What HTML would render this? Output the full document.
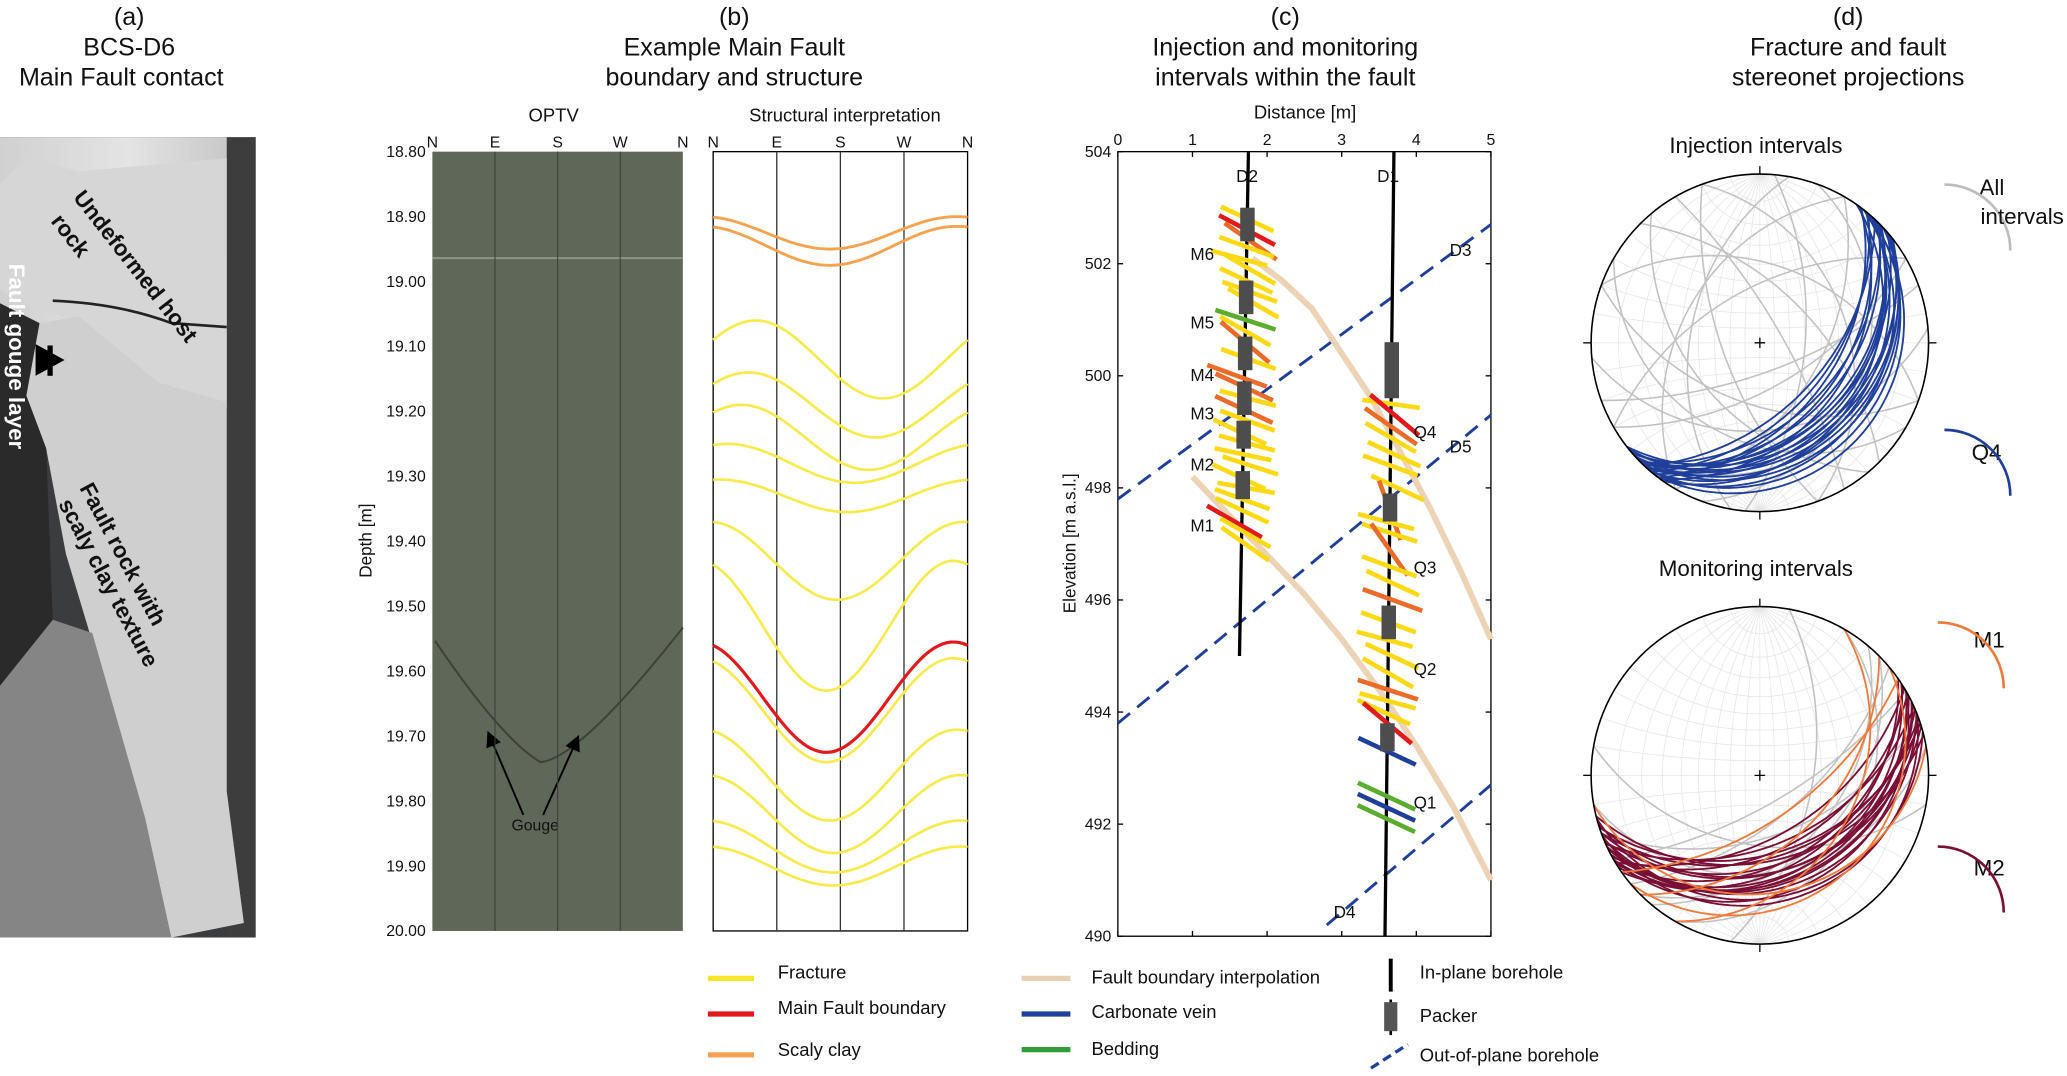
<!DOCTYPE html>
<html><head><meta charset="utf-8"><style>
html,body{margin:0;padding:0;background:#fff;width:2067px;height:1076px;overflow:hidden}
svg{display:block}
text{font-family:"Liberation Sans",Arial,sans-serif;fill:#111}
</style></head><body>
<svg id="fig" width="2067" height="1076" viewBox="0 0 1568 816" preserveAspectRatio="none" xmlns="http://www.w3.org/2000/svg">
<defs>
<clipPath id="clipPhoto"><rect x="0" y="104" width="194" height="607"/></clipPath>
<linearGradient id="coreG" x1="0" x2="1" y1="0" y2="0"><stop offset="0" stop-color="#d0d0d0"/><stop offset="0.5" stop-color="#e4e4e4"/><stop offset="0.9" stop-color="#c8c8c8"/><stop offset="1" stop-color="#666"/></linearGradient>
<marker id="ah" markerWidth="8" markerHeight="8" refX="6" refY="4" orient="auto"><path d="M0,0 L8,4 L0,8 z" fill="#000"/></marker>
</defs>

<g font-size="19" text-anchor="middle">
<text x="98" y="19">(a)</text>
<text x="98" y="42">BCS-D6</text>
<text x="92" y="65">Main Fault contact</text>
<text x="557" y="19">(b)</text>
<text x="557" y="42">Example Main Fault</text>
<text x="557" y="65">boundary and structure</text>
<text x="975" y="19">(c)</text>
<text x="975" y="42">Injection and monitoring</text>
<text x="975" y="65">intervals within the fault</text>
<text x="1402" y="19">(d)</text>
<text x="1402" y="42">Fracture and fault</text>
<text x="1402" y="65">stereonet projections</text>
</g>

<g clip-path="url(#clipPhoto)">
<rect x="0" y="104" width="194" height="607" fill="#3a3c3e"/>
<rect x="0" y="104" width="194" height="200" fill="url(#coreG)"/>
<rect x="172" y="104" width="22" height="607" fill="#3d3d3d"/>
<polygon points="0,140 20,120 60,130 172,120 172,310 120,290 60,245 20,230 0,220" fill="#d6d6d6"/>
<polygon points="30,245 60,240 120,290 172,305 172,600 185,700 130,711 110,690 95,620 80,520 50,420 35,340 20,300" fill="#cfcfcf"/>
<polygon points="0,520 40,470 70,480 110,620 130,711 0,711" fill="#858585"/>
<polygon points="0,230 30,245 20,300 35,340 40,470 0,520" fill="#2a2a2a"/>
<path d="M40,228 Q90,230 130,245 L172,248" stroke="#222" stroke-width="2" fill="none"/>
<text x="0" y="0" font-size="17" font-weight="bold" transform="translate(55,150) rotate(52)">Undeformed host</text>
<text x="0" y="0" font-size="17" font-weight="bold" transform="translate(38,168) rotate(52)">rock</text>
<text x="0" y="0" font-size="17" font-weight="bold" style="fill:#fff" transform="translate(7,200) rotate(90)">Fault gouge layer</text>
<text x="0" y="0" font-size="17" font-weight="bold" transform="translate(60,370) rotate(62)">Fault rock with</text>
<text x="0" y="0" font-size="17" font-weight="bold" transform="translate(44,382) rotate(62)">scaly clay texture</text>
<line x1="38" y1="262" x2="38" y2="285" stroke="#000" stroke-width="4"/>
<polygon points="26,262 50,262 38,284" fill="#000" transform="rotate(-90 38 273)"/>
</g>

<g id="panelB">
<text x="420" y="92" font-size="14" text-anchor="middle">OPTV</text>
<text x="641" y="92" font-size="14" text-anchor="middle">Structural interpretation</text>
<rect x="328" y="115" width="190" height="591" fill="#5f6759"/>
<rect x="328" y="195" width="190" height="1.5" fill="#8d9588"/>
<path d="M330,486 Q380,560 410,578 Q440,575 518,476" stroke="#3c4238" stroke-width="1.5" fill="none"/>
<rect x="541" y="115" width="193" height="591" fill="#fff" stroke="#000" stroke-width="1"/>
<text x="0" y="0" font-size="13" text-anchor="middle" transform="translate(282,410) rotate(-90)">Depth [m]</text>
<text x="406" y="630" font-size="12" text-anchor="middle">Gouge</text>
<line x1="397" y1="618" x2="371" y2="557" stroke="#000" stroke-width="1.5" marker-end="url(#ah)"/>
<line x1="412" y1="618" x2="438" y2="560" stroke="#000" stroke-width="1.5" marker-end="url(#ah)"/>
</g>

<g id="panelC">
<rect x="848" y="115" width="283" height="595" fill="#fff" stroke="#000" stroke-width="1"/>
<text x="990" y="90" font-size="14" text-anchor="middle">Distance [m]</text>
<text x="0" y="0" font-size="13" text-anchor="middle" transform="translate(816,412) rotate(-90)">Elevation [m a.s.l.]</text>
</g>

<g id="panelD">
<text x="1332" y="116" font-size="17" text-anchor="middle">Injection intervals</text>
<text x="1332" y="437" font-size="17" text-anchor="middle">Monitoring intervals</text>
</g>

<g font-size="14">
<line x1="537" y1="742" x2="572" y2="742" stroke="#f5e62a" stroke-width="4"/><text x="590" y="742">Fracture</text>
<line x1="537" y1="769" x2="572" y2="769" stroke="#e3191b" stroke-width="4"/><text x="590" y="769">Main Fault boundary</text>
<line x1="537" y1="800" x2="572" y2="800" stroke="#f4a450" stroke-width="4"/><text x="590" y="801">Scaly clay</text>
<line x1="775" y1="742" x2="812" y2="742" stroke="#e8cfb2" stroke-width="4"/><text x="828" y="746">Fault boundary interpolation</text>
<line x1="775" y1="769" x2="812" y2="769" stroke="#1f3f9a" stroke-width="4"/><text x="828" y="772">Carbonate vein</text>
<line x1="775" y1="796" x2="812" y2="796" stroke="#2f9e3a" stroke-width="4"/><text x="828" y="800">Bedding</text>
<line x1="1055" y1="727" x2="1055" y2="752" stroke="#000" stroke-width="3"/><text x="1077" y="742">In-plane borehole</text>
<line x1="1055" y1="758" x2="1055" y2="785" stroke="#000" stroke-width="2"/><rect x="1050" y="760" width="10" height="22" fill="#555"/><text x="1077" y="775">Packer</text>
<line x1="1040" y1="810" x2="1068" y2="792" stroke="#1f3f9a" stroke-width="2.5" stroke-dasharray="7,4"/><text x="1077" y="805">Out-of-plane borehole</text>
</g>
</svg>
<script>
var NS="http://www.w3.org/2000/svg";
function mk(tag,attrs,parent){var e=document.createElementNS(NS,tag);for(var k in attrs)e.setAttribute(k,attrs[k]);parent.appendChild(e);return e;}
// ---------- Panel B data ----------
var depthTicks=["18.80","18.90","19.00","19.10","19.20","19.30","19.40","19.50","19.60","19.70","19.80","19.90","20.00"];
var azLabels=["N","E","S","W","N"];
var fracDepth=[19.12,19.19,19.24,19.28,19.33,19.43,19.53,19.66,19.76,19.82,19.87,19.90];
var fracAmp=[0.06,0.05,0.05,0.03,0.025,0.06,0.10,0.08,0.07,0.06,0.04,0.03];
var fracTrough=[240,230,220,200,190,175,160,160,165,170,170,170];
var clayDepth=[18.925,18.945];
var clayAmp=[0.025,0.03];
var faultDepth=[19.64];
var faultAmp=[0.085];
var B=document.getElementById('panelB');
var bx0=541,bx1=734,by0=115,by1=706;
function Yd(d){return by0+(d-18.8)/1.2*(by1-by0);}
function AzX(a,x0,x1){return x0+a/360*(x1-x0);}
for(var i=0;i<depthTicks.length;i++){var y=Yd(parseFloat(depthTicks[i]));
 var t=mk('text',{x:323,y:y+4,'font-size':12,'text-anchor':'end'},B);t.textContent=depthTicks[i];
 
 }
for(var i=0;i<5;i++){[[328,518],[541,734]].forEach(function(r,j){
 var x=AzX(i*90,r[0],r[1]);var t=mk('text',{x:x,y:112,'font-size':12,'text-anchor':'middle'},B);t.textContent=azLabels[i];
 
 
 if(i>0&&i<4){var l=mk('line',{x1:x,y1:by0,x2:x,y2:by1,stroke:j?'#333':'#3a4037','stroke-width':j?1:0.8},B);
 
 }});}
function sinus(d,a,tr,color,w){var p="";for(var k=0;k<=60;k++){var az=k*6;var y=Yd(d+a*Math.cos((az-tr)*Math.PI/180));p+=(k?"L":"M")+AzX(az,bx0,bx1).toFixed(1)+","+y.toFixed(1);}
 return mk('path',{d:p,stroke:color,'stroke-width':w,fill:'none'},B);}
for(var i=0;i<fracDepth.length;i++){var e=sinus(fracDepth[i],fracAmp[i],fracTrough[i],'#f7ea4a',2);
 
 }
for(var i=0;i<clayDepth.length;i++){var e=sinus(clayDepth[i],clayAmp[i],165,'#f4a450',2.2);
 
 }
for(var i=0;i<faultDepth.length;i++){var e=sinus(faultDepth[i],faultAmp[i],160,'#e3191b',2.4);
 
 }

// ---------- Panel C data ----------
var distTicks=[0,1,2,3,4,5];
var elevTicks=[504,502,500,498,496,494,492,490];
var d2Elev=[502.8,502.6,502.4,502.3,502.1,501.9,501.7,501.5,501.3,501.0,500.8,500.6,500.3,500.0,499.8,499.6,499.4,499.2,499.0,498.8,498.6,498.4,498.2,498.0,497.8,497.6,497.4,497.2,497.0];
var d2Col=["y","r","o","y","y","y","y","y","y","g","y","o","y","o","o","y","o","y","y","y","y","y","y","y","y","y","r","y","y"];
var d2Ang=[25,28,35,20,15,30,25,20,30,18,30,40,20,20,25,15,25,20,25,15,12,18,25,10,20,25,30,30,35];
var d2Off=[0.0,0.0,0.05,0.0,-0.1,0.05,0.0,0.05,0.1,0.0,0.0,0.0,0.05,-0.1,0.0,0.05,0.0,0.05,-0.05,0.05,0.0,0.1,-0.05,0.05,0.0,0.0,-0.1,0.05,0.05];
var d1Elev=[499.5,499.3,499.1,498.9,498.6,498.4,498.0,497.6,497.4,497.2,496.9,496.6,496.3,496.0,495.6,495.3,495.0,494.7,494.4,494.2,494.0,493.8,493.3,492.5,492.3,492.1];
var d1Col=["y","r","o","y","y","y","y","o","y","y","o","y","y","o","y","y","y","y","o","y","y","r","b","g","b","g"];
var d1Ang=[8,40,35,30,25,20,25,70,15,18,55,20,25,20,20,15,25,30,18,15,25,40,25,25,25,25];
var d1Off=[0.0,0.05,0.0,0.0,0.05,0.0,0.1,0.0,-0.05,0.0,0.0,0.0,0.05,0.05,0.0,-0.05,0.05,0.0,0.0,0.0,-0.05,0.0,0.0,0.0,0.0,0.0];
var packD2=[[503.0,502.4],[501.7,501.1],[500.7,500.1],[499.9,499.3],[499.2,498.7],[498.3,497.8]];
var packD1=[[500.6,499.6],[497.9,497.4],[495.9,495.3],[493.8,493.3]];
var faultUpper=[[1.8,502.1],[2.2,501.7],[2.6,501.2],[3.0,500.4],[3.4,499.6],[3.8,498.6],[4.2,497.6],[4.6,496.5],[5.0,495.3]];
var faultLower=[[1.0,498.2],[1.5,497.5],[2.0,496.8],[2.5,496.1],[3.0,495.3],[3.5,494.4],[4.0,493.4],[4.5,492.3],[5.0,491.0]];
var boreD3=[[0,497.8],[5,502.7]];
var boreD5=[[0,493.8],[5,499.3]];
var boreD4=[[2.8,490.2],[5,492.7]];
var C=document.getElementById('panelC');
var cx0=848,cx1=1131,cy0=115,cy1=710;
function X(d){return cx0+d/5*(cx1-cx0);}
function Y(e){return cy0+(504-e)/14*(cy1-cy0);}
function D2x(e){return 1.75-(504-e)/9*0.12;}
function D1x(e){return 3.7-(504-e)/14*0.12;}
var colMap={y:'#fbd915',r:'#e3191b',o:'#ec6b28',g:'#5aae2e',b:'#1f3f9a'};
distTicks.forEach(function(v){var t=mk('text',{x:X(v),y:110,'font-size':12,'text-anchor':'middle'},C);t.textContent=v;
 
 
 mk('line',{x1:X(v),y1:cy0,x2:X(v),y2:cy0+4,stroke:'#000'},C);mk('line',{x1:X(v),y1:cy1,x2:X(v),y2:cy1-4,stroke:'#000'},C);});
elevTicks.forEach(function(v){var t=mk('text',{x:843,y:Y(v)+4,'font-size':12,'text-anchor':'end'},C);t.textContent=v;
 
 
 mk('line',{x1:cx0,y1:Y(v),x2:cx0+4,y2:Y(v),stroke:'#000'},C);mk('line',{x1:cx1,y1:Y(v),x2:cx1-4,y2:Y(v),stroke:'#000'},C);});
function dashed(pts,name){var l=mk('line',{x1:X(pts[0][0]),y1:Y(pts[0][1]),x2:X(pts[1][0]),y2:Y(pts[1][1]),stroke:'#1f3f9a','stroke-width':2.2,'stroke-dasharray':'12,7'},C);
 
 }
dashed(boreD3,'borehole-d3');dashed(boreD5,'borehole-d5');dashed(boreD4,'borehole-d4');
function poly(pts,name){var p=pts.map(function(q,i){return (i?'L':'M')+X(q[0]).toFixed(1)+','+Y(q[1]).toFixed(1);}).join('');
 var e=mk('path',{d:p,stroke:'#ecd3b5','stroke-width':4.5,fill:'none','stroke-linejoin':'round'},C);
 
 }
poly(faultUpper,'fault-interp-upper');poly(faultLower,'fault-interp-lower');
var b2=mk('line',{x1:X(D2x(504)),y1:cy0,x2:X(D2x(495)),y2:Y(495),stroke:'#000','stroke-width':2.5},C);


var b1=mk('line',{x1:X(D1x(504)),y1:cy0,x2:X(D1x(490)),y2:cy1,stroke:'#000','stroke-width':2.5},C);


function ticks(el,col,ang,off,fx,name){for(var i=0;i<el.length;i++){var cx=X(fx(el[i])+off[i]),cy=Y(el[i]);var L=col[i]=='y'?22:24;var a=ang[i]*Math.PI/180;
 var e=mk('line',{x1:cx-L*Math.cos(a),y1:cy-L*Math.sin(a),x2:cx+L*Math.cos(a),y2:cy+L*Math.sin(a),stroke:colMap[col[i]],'stroke-width':3.5},C);
 
 }}
ticks(d2Elev,d2Col,d2Ang,d2Off,D2x,'d2-structure');
ticks(d1Elev,d1Col,d1Ang,d1Off,D1x,'d1-structure');
function packers(arr,fx,name){arr.forEach(function(p){var e=mk('rect',{x:X(fx(p[0]))-5.5,y:Y(p[0]),width:11,height:Y(p[1])-Y(p[0]),fill:'#4d4d4d'},C);
 
 });}
packers(packD2,D2x,'packer-d2');packers(packD1,D1x,'packer-d1');
var labels=[["D2",946,138],["D1",1053,138],["D3",1108,194],["D5",1108,343],["D4",1020,696],["M6",912,197],["M5",912,249],["M4",912,289],["M3",912,318],["M2",912,357],["M1",912,403],["Q4",1081,332],["Q3",1081,435],["Q2",1081,512],["Q1",1081,613]];
labels.forEach(function(l){var t=mk('text',{x:l[1],y:l[2],'font-size':13,'text-anchor':'middle'},C);t.textContent=l[0];
 
 });

// ---------- Panel D data ----------
var topBlueDD=[128,130,132,135,126,138,140,133,129,131,136,142,127,134,130,137,139,125,133,141,135,128];
var topBlueDip=[18,22,26,30,34,20,24,28,38,15,32,26,42,36,45,18,30,24,48,22,40,12];
var topGreyDD=[20,45,70,95,110,160,200,230,250,300,330,175,150,60,140,120,210,280];
var topGreyDip=[40,55,35,60,25,70,50,45,65,40,55,35,60,75,20,50,30,45];
var botMarDD=[150,155,160,148,158,152,162,165,145,156,150,160,154,149,163,157,151,159,147,166];
var botMarDip=[20,25,30,35,22,28,40,18,32,45,26,38,24,50,30,34,42,16,28,36];
var botOrDD=[120,135,170,145,140];
var botOrDip=[30,45,20,60,15];
var botGreyDD=[100,130,140,170,190,150,120,160,135];
var botGreyDip=[55,40,60,30,45,70,25,50,35];
var D=document.getElementById('panelD');
var R=128;
function proj(cx,cy,v){return [cx+R*v[0]/(1+v[2]),cy-R*v[1]/(1+v[2])];}
function pathFrom(cx,cy,vecs){return vecs.map(function(v,i){var p=proj(cx,cy,v);return (i?'L':'M')+p[0].toFixed(1)+','+p[1].toFixed(1);}).join('');}
function planeVecs(dd,dip){var a=dd*Math.PI/180,d=dip*Math.PI/180;var s=[Math.sin(a-Math.PI/2),Math.cos(a-Math.PI/2),0];
 var dv=[Math.sin(a)*Math.cos(d),Math.cos(a)*Math.cos(d),Math.sin(d)];var out=[];
 for(var k=0;k<=72;k++){var t=k/72*Math.PI;out.push([Math.cos(t)*s[0]+Math.sin(t)*dv[0],Math.cos(t)*s[1]+Math.sin(t)*dv[1],Math.cos(t)*s[2]+Math.sin(t)*dv[2]]);}
 return out;}
function net(cx,cy,name){var g=mk('g',{},D);
 
 
 var gp="";
 for(var d=10;d<=170;d+=10){if(d==90)continue;
  var dd=d<90?90:270,dp=d<90?d:180-d;gp+=pathFrom(cx,cy,planeVecs(dd,dp));
  var a=d*Math.PI/180,sm=[];for(var k=0;k<=36;k++){var f=k/36*Math.PI;sm.push([Math.sin(a)*Math.cos(f),Math.cos(a),Math.sin(a)*Math.sin(f)]);}
  gp+=pathFrom(cx,cy,sm);}
 gp+='M'+(cx-R)+','+cy+'H'+(cx+R)+'M'+cx+','+(cy-R)+'V'+(cy+R);
 mk('path',{d:gp,fill:'none',stroke:'#e6e6e6','stroke-width':0.6},g);
 var o=mk('circle',{cx:cx,cy:cy,r:R,fill:'none',stroke:'#000','stroke-width':1.2},D);
 
 
 mk('path',{d:'M'+(cx-4)+','+cy+'h8M'+cx+','+(cy-4)+'v8',stroke:'#000','stroke-width':1},D);
 [[0,-1],[0,1],[-1,0],[1,0]].forEach(function(v){mk('line',{x1:cx+v[0]*R,y1:cy+v[1]*R,x2:cx+v[0]*(R+6),y2:cy+v[1]*(R+6),stroke:'#000'},D);});
 return g;}
function gc(g,cx,cy,dd,dip,color,w,name){
 var e=mk('path',{d:pathFrom(cx,cy,planeVecs(dd,dip)),fill:'none',stroke:color,'stroke-width':w},g);
 
 }
var gt=net(1335,260,'stereonet-injection');
topGreyDD.forEach(function(d,i){gc(gt,1335,260,d,topGreyDip[i],'#c2c2c2',1.2,'grey-great-circle');});
topBlueDD.forEach(function(d,i){gc(gt,1335,260,d,topBlueDip[i],'#1f3f9a',1.4,'q4-great-circle');});
var gb=net(1335,588,'stereonet-monitoring');
botGreyDD.forEach(function(d,i){gc(gb,1335,588,d,botGreyDip[i],'#c2c2c2',1.2,'grey-great-circle');});
botMarDD.forEach(function(d,i){gc(gb,1335,588,d,botMarDip[i],'#7a0f35',1.4,'m2-great-circle');});
botOrDD.forEach(function(d,i){gc(gb,1335,588,d,botOrDip[i],'#ef7a3a',1.4,'m1-great-circle');});
var leg=[["All",1511,148,'#bdbdbd',1475,140],["intervals",1534,170,null,0,0],["Q4",1507,349,'#1f3f9a',1475,326],["M1",1509,491,'#ef7a3a',1470,472],["M2",1509,664,'#7a0f35',1470,642]];
leg.forEach(function(l){var t=mk('text',{x:l[1],y:l[2],'font-size':17,'text-anchor':'middle'},D);t.textContent=l[0];
 
 
 if(l[3]){var p=mk('path',{d:'M'+l[4]+','+l[5]+' A50,50 0 0 1 '+(l[4]+50)+','+(l[5]+50),stroke:l[3],'stroke-width':2,fill:'none'},D);
 
 }});
</script>
</body></html>
